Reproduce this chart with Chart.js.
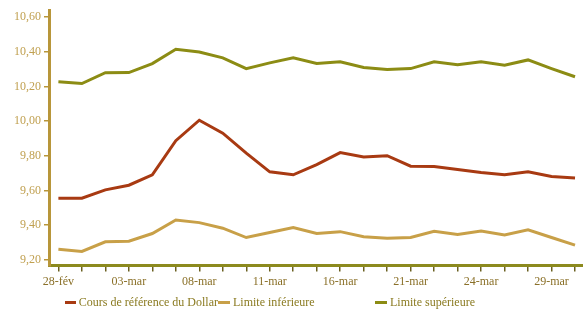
<!DOCTYPE html>
<html><head><meta charset="utf-8">
<script src="https://cdn.jsdelivr.net/npm/chart.js@4/dist/chart.umd.min.js"></script>
<style>
html,body{margin:0;padding:0;background:#fff}
#w{position:relative;width:583px;height:313px}
#lg{position:absolute;left:65px;top:294px;display:flex;font-family:'Liberation Serif','Times New Roman',serif;font-size:12px;color:#8a7a20;line-height:16px;white-space:nowrap}
#lg .it{display:flex;align-items:center}
#lg .bx{display:inline-block;width:12px;height:3px;margin-right:3px}
</style>
</head><body><div id="w"><canvas id="c"></canvas><div id="lg"></div></div>
<script>
const categories = ['28-fév','01-mar','02-mar','03-mar','04-mar','07-mar','08-mar','09-mar','10-mar','11-mar','14-mar','15-mar','16-mar','17-mar','18-mar','21-mar','22-mar','23-mar','24-mar','25-mar','28-mar','29-mar','30-mar'];
const coursDollar = [9.555,9.555,9.603,9.630,9.690,9.887,10.005,9.930,9.815,9.707,9.690,9.749,9.818,9.793,9.800,9.740,9.738,9.720,9.703,9.690,9.708,9.680,9.672];
const limiteInf = [9.261,9.248,9.303,9.307,9.351,9.429,9.414,9.382,9.328,9.357,9.385,9.351,9.362,9.332,9.324,9.328,9.364,9.345,9.366,9.343,9.372,9.328,9.284];
const limiteSup = [10.227,10.217,10.279,10.280,10.332,10.415,10.399,10.365,10.303,10.336,10.365,10.332,10.342,10.309,10.298,10.303,10.342,10.325,10.342,10.323,10.353,10.303,10.256];
const seriesNames = ['Cours de référence du Dollar','Limite inférieure','Limite supérieure'];
const seriesColors = ['#a83a12','#c8a048','#8c8c14'];
const yTicks = [9.2,9.4,9.6,9.8,10.0,10.2,10.4,10.6];

const F = "'Liberation Serif', 'Times New Roman', serif";
const toPts = arr => arr.map((y, i) => ({x: i, y}));
const allSeries = [coursDollar, limiteInf, limiteSup];

// HTML legend
const lg = document.getElementById('lg');
const legendWidths = [153, 157, 120];
seriesNames.forEach((n, i) => {
  const it = document.createElement('div'); it.className = 'it'; it.style.width = legendWidths[i] + 'px';
  const b = document.createElement('span'); b.className = 'bx'; b.style.background = seriesColors[i];
  const t = document.createElement('span'); t.textContent = n;
  it.appendChild(b); it.appendChild(t); lg.appendChild(it);
});

new Chart(document.getElementById('c'), {
  type: 'line',
  data: {
    datasets: allSeries.map((s, i) => ({label: seriesNames[i], data: toPts(s), borderColor: seriesColors[i], backgroundColor: seriesColors[i]}))
  },
  options: {
    responsive: true, maintainAspectRatio: false, animation: false,
    devicePixelRatio: 1,
    layout: {padding: {top: 8, right: 0, left: 11, bottom: 21}},
    elements: {line: {borderWidth: 3, tension: 0}, point: {radius: 0}},
    plugins: {tooltip: {enabled: false}, legend: {display: false}},
    scales: {
      x: {
        type: 'linear', min: -0.4, max: 22.34,
        border: {display: true, color: '#8c8a1e', width: 3},
        grid: {display: true, drawOnChartArea: false, drawTicks: true, tickLength: 6, color: '#6a6020', lineWidth: 1.5},
        afterBuildTicks: a => { a.ticks = categories.map((c, i) => ({value: i})); },
        ticks: {
          autoSkip: false, maxRotation: 0, minRotation: 0, padding: 3,
          font: {family: F, size: 12}, color: '#8a7028',
          callback: v => (v % 3 === 0 ? categories[v] : '')
        }
      },
      y: {
        min: 9.166, max: 10.64,
        border: {display: true, color: '#b8963a', width: 3},
        grid: {display: true, drawOnChartArea: false, drawTicks: true, tickLength: 5, color: '#b8963a', lineWidth: 1.5},
        afterBuildTicks: a => { a.ticks = yTicks.map(v => ({value: v})); },
        ticks: {
          font: {family: F, size: 12}, color: '#c0a050', padding: 3,
          callback: v => Number(v).toFixed(2).replace('.', ',')
        }
      }
    }
  }
});
</script>
</body></html>
